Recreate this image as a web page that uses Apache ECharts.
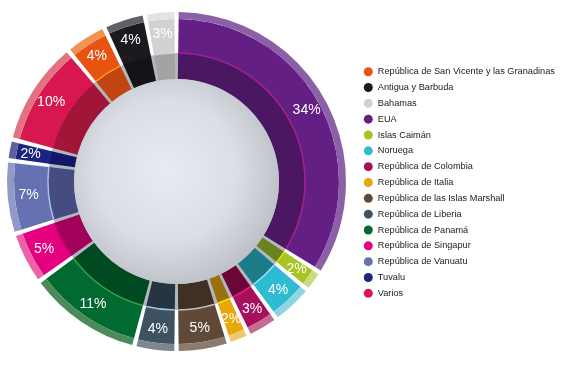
<!DOCTYPE html>
<html>
<head>
<meta charset="utf-8">
<script src="https://cdn.jsdelivr.net/npm/echarts@6/dist/echarts.min.js"></script>
<style>
html,body{margin:0;padding:0;background:#fff;}
#c{width:575px;height:366px;}
</style>
</head>
<body>
<div id="c"></div>
<script>
// Categories in drawing order (clockwise from 12 o'clock)
const categories = ['EUA','Islas Caimán','Noruega','República de Colombia','República de Italia','República de las Islas Marshall','República de Liberia','República de Panamá','República de Singapur','República de Vanuatu','Tuvalu','Varios','República de San Vicente y las Granadinas','Antigua y Barbuda','Bahamas'];
const shares = [34, 2, 4, 3, 2, 5, 4, 11, 5, 7, 2, 10, 4, 4, 3];
const legendOrder = ['República de San Vicente y las Granadinas','Antigua y Barbuda','Bahamas','EUA','Islas Caimán','Noruega','República de Colombia','República de Italia','República de las Islas Marshall','República de Liberia','República de Panamá','República de Singapur','República de Vanuatu','Tuvalu','Varios'];

// styles
const mainColors = ['#641f84','#a6c424','#2dbcd3','#a8105e','#e8a80c','#5f4a3a','#3d5361','#006a31','#e4007f','#6671b1','#1b247f','#d8174f','#e85312','#1b1a1f','#d1d1d1'];
const innerColors = ['#4b1662','#6b8221','#1b7b88','#6c0639','#9a710a','#3f2f25','#253541','#004a21','#a1005b','#464b81','#111867','#a11539','#c04510','#141418','#a3a3a3'];
const rimColors = ['#8c60a7','#c6dc82','#8ed5e3','#c26b93','#f0c872','#8b7b6f','#7b8791','#4b8b5b','#eb62a9','#9199c9','#5b61a1','#e27282','#f09252','#616165','#e3e3e3'];
const dividerColors = ['#a3218c','#e8e000','#9ee0ee','#e0207f','#ffe000','#c8c0b8','#9ec8e8','#3aa04a','#c0006a','#a8c0e8','#1b247f','#d8174f','#ff9a20','#1b1a1f','#d1d1d1'];

const center = [176.5, 181.5];
const pad = 1.5;

function mk(colors) {
  return categories.map((n, i) => ({ name: n, value: shares[i], itemStyle: { color: colors[i] } }));
}

const chart = echarts.init(document.getElementById('c'), null, { renderer: 'canvas' });
chart.setOption({
  animation: false,
  backgroundColor: '#ffffff',
  legend: {
    data: legendOrder,
    orient: 'vertical',
    left: 358.8,
    top: 60.7,
    icon: 'circle',
    itemWidth: 9,
    itemHeight: 9,
    itemGap: 3.83,
    textStyle: { fontFamily: 'Liberation Sans', fontSize: 9.2, color: '#1a1a1a', lineHeight: 12 },
    selectedMode: false
  },
  series: [
    {
      name: 'main', type: 'pie', center: center, radius: [128.5, 162.5],
      startAngle: 90, clockwise: true, padAngle: pad, silent: true, z: 3,
      label: { show: true, position: 'inside', formatter: '{c}%', color: '#fff',
               fontFamily: 'Liberation Sans', fontSize: 14 },
      labelLine: { show: false },
      data: mk(mainColors)
    },
    {
      name: 'rim', type: 'pie', center: center, radius: [162.5, 169.5],
      startAngle: 90, clockwise: true, padAngle: pad, silent: true, z: 3,
      label: { show: false }, labelLine: { show: false },
      data: mk(rimColors)
    },
    {
      name: 'divider', type: 'pie', center: center, radius: [127.8, 129.3],
      startAngle: 90, clockwise: true, padAngle: pad, silent: true, z: 3,
      label: { show: false }, labelLine: { show: false },
      data: mk(dividerColors)
    },
    {
      name: 'innerBg', type: 'pie', center: center, radius: [100, 128.5],
      startAngle: 90, silent: true, z: 1,
      label: { show: false }, labelLine: { show: false },
      data: [{ name: '_bg', value: 1, itemStyle: { color: '#b3b7bc' } }]
    },
    {
      name: 'inner', type: 'pie', center: center, radius: [102.5, 128.5],
      startAngle: 90, clockwise: true, padAngle: pad, silent: true, z: 2,
      label: { show: false }, labelLine: { show: false },
      data: mk(innerColors)
    },
    {
      name: 'core', type: 'pie', center: center, radius: [0, 102.5],
      startAngle: 90, silent: true, z: 4,
      label: { show: false }, labelLine: { show: false },
      data: [{ name: '_core', value: 1, itemStyle: {
        color: { type: 'radial', x: 0.45, y: 0.45, r: 0.58,
          colorStops: [{ offset: 0, color: '#e7ecf2' }, { offset: 0.6, color: '#dadee4' }, { offset: 1, color: '#bcc0c6' }] }
      } }]
    }
  ]
});
</script>
</body>
</html>
